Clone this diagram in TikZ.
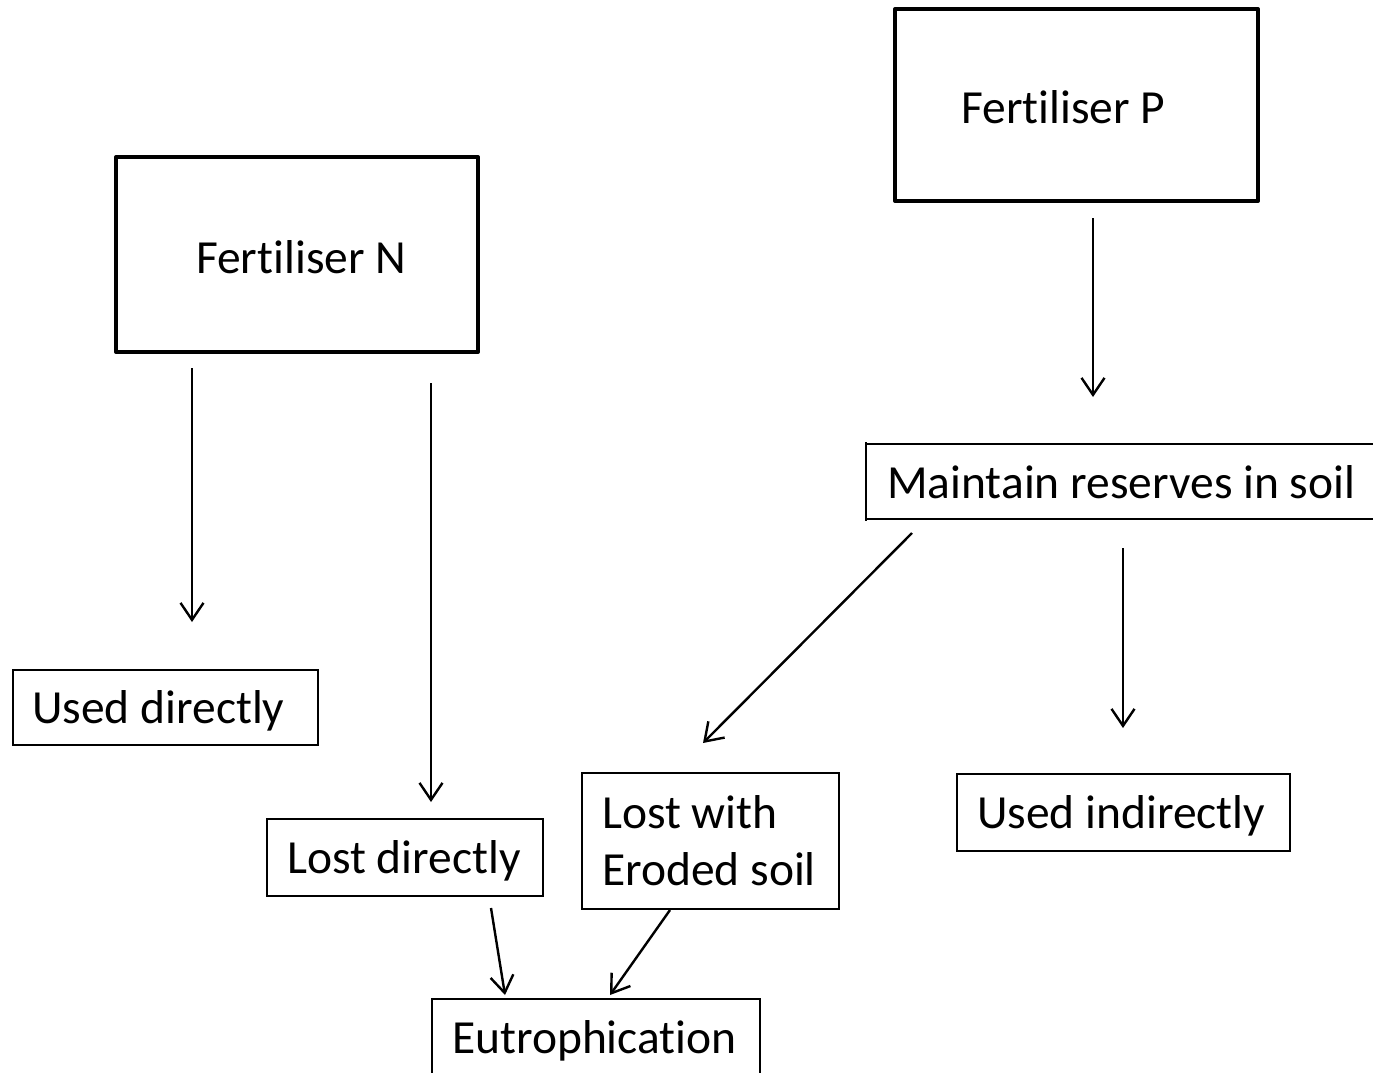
\documentclass[tikz,border=0pt]{standalone}
\usepackage{fontspec}
\setmainfont{Carlito}[Ligatures=NoCommon,RawFeature={-liga,-clig,-calt}]
\usetikzlibrary{arrows.meta}
\begin{document}
\begin{tikzpicture}[x=1pt,y=-1pt,
  thinbox/.style={draw,line width=2pt},
  thickbox/.style={draw,line width=4pt,line join=round},
  txt/.style={anchor=base west,inner sep=0pt,font=\fontsize{47.5}{57}\selectfont},
  arr/.style={line width=2.4pt,-{Straight Barb[length=17pt,width=23pt,line width=2.4pt]}}]
\useasboundingbox (0,0) rectangle (1373,1072);
% boxes
\draw[thickbox] (116,157) rectangle (478,352);
\draw[thickbox] (895,9) rectangle (1258,201);
\draw[thinbox] (866,444) -- (1400,444) (866,519) -- (1400,519) (866,442) -- (866,521);
\draw[thinbox] (13,670) rectangle (318,745);
\draw[thinbox] (267,819) rectangle (543,896);
\draw[thinbox] (582,773) rectangle (839,909);
\draw[thinbox] (957,774) rectangle (1290,851);
\draw[thinbox] (432,1100) -- (432,999) -- (760,999) -- (760,1100);
% texts
\node[txt] (fn) at (196,273) {Fert\kern0pt iliser N};
\node[txt] (fp) at (961,123) {Fert\kern0pt iliser P};
\node[txt] (mr) at (887,498) {Maintain reserves in soil};
\node[txt] (ud) at (32,723) {Used directly};
\node[txt] (ld) at (287,873) {Lost directly};
\node[txt] (lw) at (602,828) {Lost with};
\node[txt] (es) at (602,885) {Eroded soil};
\node[txt] (ui) at (977,828) {Used indirectly};
\node[txt] (eu) at (452,1053) {Eutrophicat\kern0pt ion};
% arrow ends
\coordinate (a1s) at (192,368); \coordinate (a1e) at (192,622);
\coordinate (a2s) at (431,383); \coordinate (a2e) at (431,802);
\coordinate (a3s) at (1093,218); \coordinate (a3e) at (1093,397);
\coordinate (a4s) at (912,533); \coordinate (a4e) at (703,743);
\coordinate (a5s) at (1123,548); \coordinate (a5e) at (1123,728);
\coordinate (a6s) at (491,908); \coordinate (a6e) at (505,995);
\coordinate (a7s) at (670,910); \coordinate (a7e) at (610,995);
\draw[arr] (a1s) -- (a1e);
\draw[arr] (a2s) -- (a2e);
\draw[arr] (a3s) -- (a3e);
\draw[arr] (a4s) -- (a4e);
\draw[arr] (a5s) -- (a5e);
\draw[arr] (a6s) -- (a6e);
\draw[arr] (a7s) -- (a7e);
\end{tikzpicture}
\end{document}
